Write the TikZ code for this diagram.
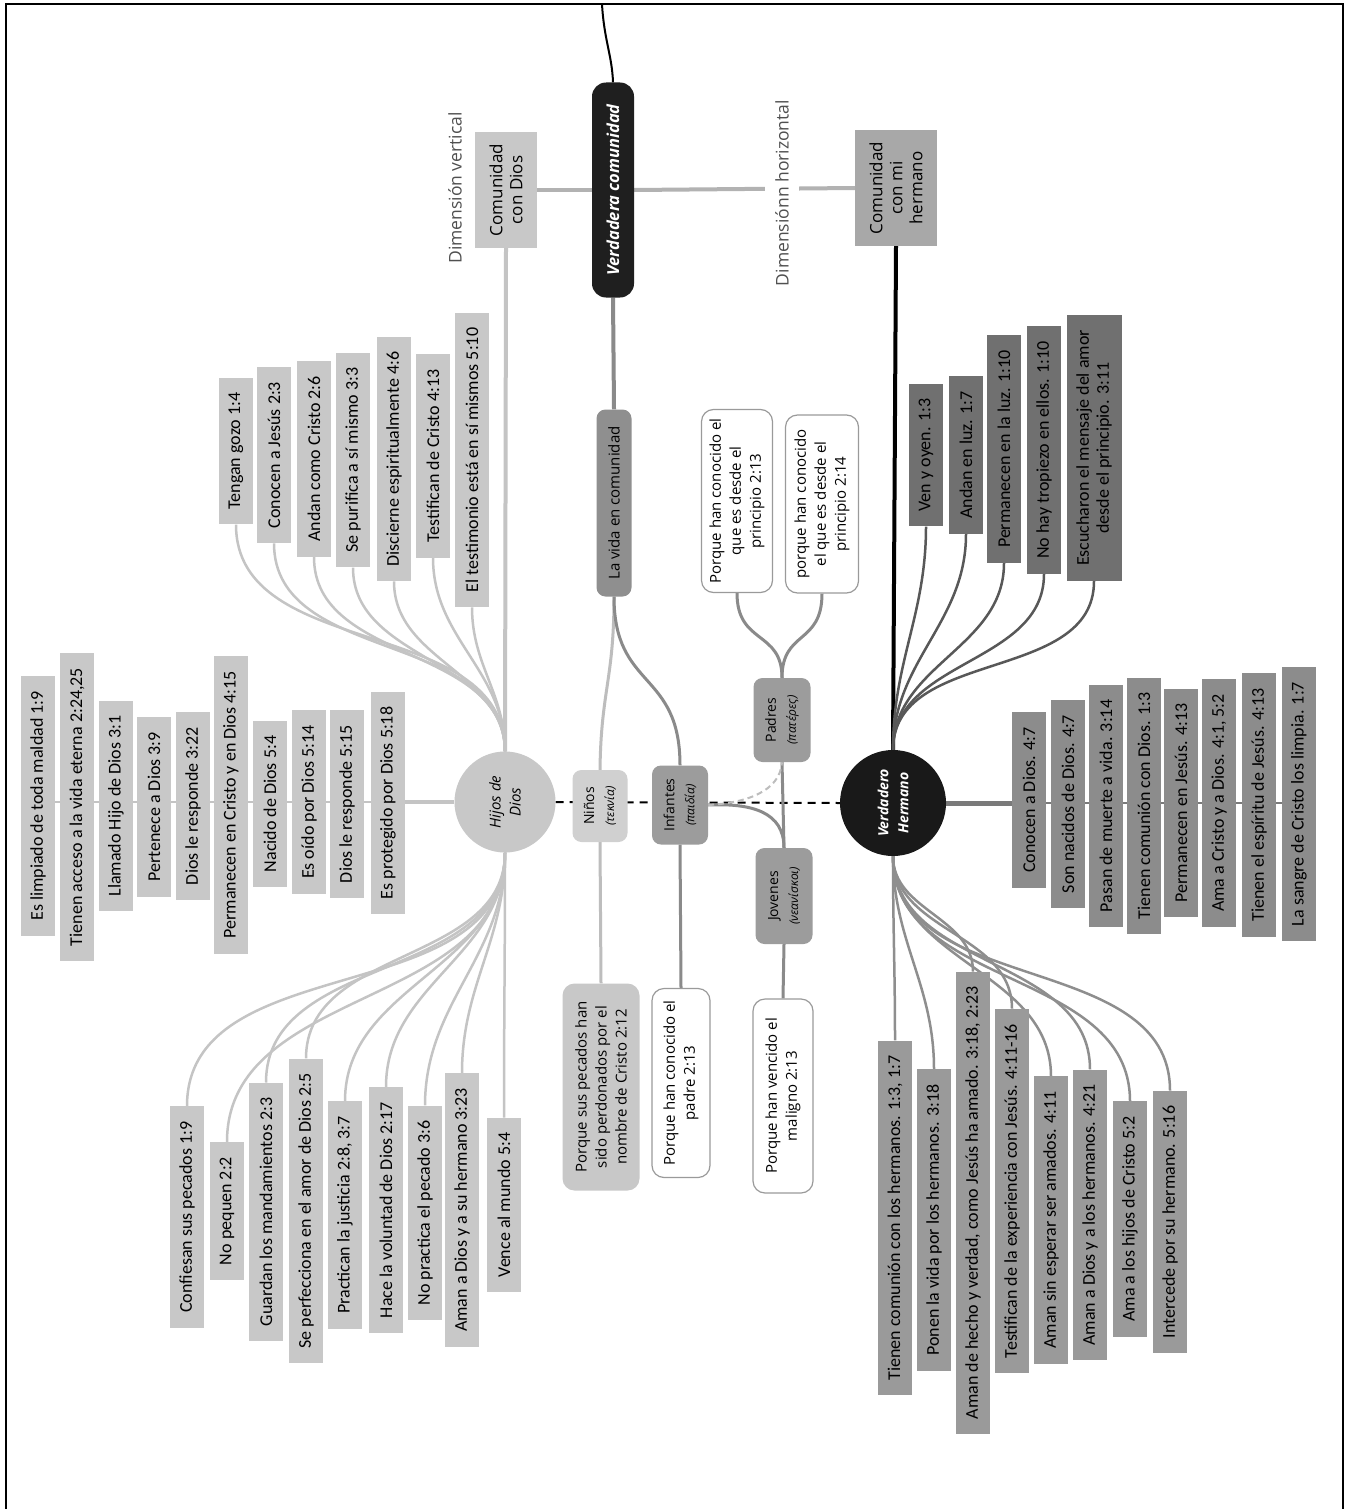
\documentclass[tikz,border=0pt]{standalone}
\usepackage{fontspec}
\setmainfont{Carlito}
\newfontfamily\mapfont{Open Sans}

\definecolor{godfill}{HTML}{C8C8C8}
\definecolor{godline}{HTML}{C4C4C4}
\definecolor{rowfill}{HTML}{8C8C8C}
\definecolor{upfill}{HTML}{707070}
\definecolor{lowfill}{HTML}{9A9A9A}
\definecolor{upline}{HTML}{585858}
\definecolor{rowline}{HTML}{7A7A7A}
\definecolor{lowline}{HTML}{8E8E8E}
\definecolor{midfill}{HTML}{9C9C9C}
\definecolor{midline}{HTML}{8A8A8A}
\definecolor{paleline}{HTML}{BDBDBD}
\definecolor{notedraw}{HTML}{9A9A9A}
\definecolor{dimtext}{HTML}{505050}

\pgfdeclarelayer{paper}
\pgfdeclarelayer{links}
\pgfsetlayers{paper,links,main}

\tikzset{
  leaf/.style={rotate=90, inner xsep=15pt, inner ysep=0pt, minimum height=34pt,
    font=\fontsize{18}{21}\selectfont, text=black},
  godleaf/.style={leaf, fill=godfill},
  rowleaf/.style={leaf, fill=rowfill},
  upleaf/.style={leaf, fill=upfill},
  lowleaf/.style={leaf, fill=lowfill},
  topic/.style={rotate=90, align=center, inner sep=0pt, rounded corners=9pt,
    font=\mapfont\fontsize{15}{20}\selectfont},
  note/.style={topic, draw=notedraw, line width=1.2pt, fill=white, rounded corners=12pt},
  dimlabel/.style={rotate=90, inner xsep=0pt, inner ysep=10pt, text=dimtext,
    font=\mapfont\fontsize{17.5}{20}\selectfont},
  godlink/.style={draw=godline, line width=2.5pt},
  uplink/.style={draw=upline, line width=2.5pt},
  rowlink/.style={draw=rowline, line width=2.5pt},
  lowlink/.style={draw=lowline, line width=2.5pt},
  midlink/.style={draw=midline, line width=3pt},
  palelink/.style={draw=paleline, line width=3pt},
}

\begin{document}
\begin{tikzpicture}[x=1pt,y=-1pt]
\useasboundingbox (0,0) rectangle (1352,1509);
\begin{pgfonlayer}{paper}
  \fill[white] (0,0) rectangle (1352,1509);
\end{pgfonlayer}

% ---------- central column ----------
\node[topic, fill=black!88, text=white, minimum width=215pt, minimum height=42pt,
  rounded corners=14pt, font=\mapfont\bfseries\itshape\fontsize{16.5}{18}\selectfont]
  (vc) at (613,190) {Verdadera comunidad};
\node[topic, fill=godfill, rounded corners=0pt, minimum width=116pt, minimum height=62pt,
  font=\mapfont\fontsize{17}{20}\selectfont] (ccd) at (506,190) {Comunidad\\con Dios};
\node[topic, fill=black!34, rounded corners=0pt, minimum width=115pt, minimum height=82pt,
  font=\mapfont\fontsize{17}{20}\selectfont] (cmh) at (896,188) {Comunidad\\con mi\\hermano};
\node[dimlabel] (dimv) at (455,188) {Dimensión vertical};
\node[dimlabel, fill=white] (dimh) at (782,193) {Dimensiónn horizontal};

\node[topic, fill=black!44, minimum width=187pt, minimum height=35pt] (vida) at (614,503) {La vida en comunidad};

\node[circle, fill=godfill, minimum size=101pt, inner sep=0pt] (hijos) at (505,802) {};
\node[rotate=90, align=center, font=\mapfont\itshape\fontsize{15}{20}\selectfont] at (hijos) {Hijos de\\Dios};
\node[circle, fill=black!90, minimum size=106pt, inner sep=0pt] (vh) at (893,803) {};
\node[rotate=90, align=center, text=white, font=\mapfont\bfseries\itshape\fontsize{14}{20}\selectfont] at (vh) {Verdadero\\Hermano};

\node[topic, fill=godfill!85, minimum width=72pt, minimum height=55pt, font=\mapfont\fontsize{14}{20}\selectfont] (ninos) at (600,806)
  {Niños\\{\itshape\fontsize{12}{14}\selectfont(τεκνία)}};
\node[topic, fill=midfill, minimum width=79pt, minimum height=56pt, font=\mapfont\fontsize{14}{20}\selectfont] (inf) at (680,805)
  {Infantes\\{\itshape\fontsize{12}{14}\selectfont(παιδία)}};
\node[topic, fill=midfill, minimum width=84pt, minimum height=57pt, font=\mapfont\fontsize{14}{20}\selectfont] (pad) at (782,720)
  {Padres\\{\itshape\fontsize{12}{14}\selectfont(πατέρες)}};
\node[topic, fill=midfill, minimum width=96pt, minimum height=57pt, font=\mapfont\fontsize{14}{20}\selectfont] (jov) at (784,896)
  {Jovenes\\{\itshape\fontsize{12}{14}\selectfont(νεανίσκοι)}};

\node[note, minimum width=183pt, minimum height=71pt] (w1) at (737,501)
  {Porque han conocido el\\que es desde el\\principio 2:13};
\node[note, minimum width=178pt, minimum height=73pt] (w2) at (822,504)
  {porque han conocido\\el que es desde el\\principio 2:14};
\node[topic, fill=godfill, rounded corners=12pt, minimum width=207pt, minimum height=77pt] (pec) at (601,1087)
  {Porque sus pecados han\\sido perdonados por el\\nombre de Cristo 2:12};
\node[note, minimum width=189pt, minimum height=58pt] (w3) at (681,1083)
  {Porque han conocido el\\padre 2:13};
\node[note, minimum width=194pt, minimum height=60pt] (w4) at (783,1096)
  {Porque han vencido el\\maligno 2:13};

% ---------- Hijos de Dios: upper fan ----------
\node[godleaf] (hu1) at (236,451) {Tengan gozo 1:4};
\node[godleaf] (hu2) at (274,455) {Conocen a Jesús 2:3};
\node[godleaf] (hu3) at (314,459) {Andan como Cristo 2:6};
\node[godleaf] (hu4) at (353,460) {Se purifica a sí mismo 3:3};
\node[godleaf] (hu5) at (394,459) {Discierne espiritualmente 4:6};
\node[godleaf] (hu6) at (433,456) {Testifican de Cristo 4:13};
\node[godleaf] (hu7) at (472,460) {El testimonio está en sí mismos 5:10};

% ---------- Hijos de Dios: row ----------
\node[godleaf] (hr1) at (38,806) {Es limpiado de toda maldad 1:9};
\node[godleaf] (hr2) at (77,807) {Tienen acceso a la vida eterna 2:24,25};
\node[godleaf] (hr3) at (116,806) {Llamado Hijo de Dios 3:1};
\node[godleaf] (hr4) at (154,807) {Pertenece a Dios 3:9};
\node[godleaf] (hr5) at (193,806) {Dios le responde 3:22};
\node[godleaf] (hr6) at (231,805) {Permanecen en Cristo y en Dios 4:15};
\node[godleaf] (hr7) at (270,804) {Nacido de Dios 5:4};
\node[godleaf] (hr8) at (309,802) {Es oído por Dios 5:14};
\node[godleaf] (hr9) at (347,804) {Dios le responde 5:15};
\node[godleaf] (hr10) at (388,803) {Es protegido por Dios 5:18};

% ---------- Hijos de Dios: lower fan ----------
\node[godleaf] (hl1) at (187,1217) {Confiesan sus pecados 1:9};
\node[godleaf] (hl2) at (227,1211) {No pequen 2:2};
\node[godleaf] (hl3) at (266,1212) {Guardan los mandamientos 2:3};
\node[godleaf] (hl4) at (306,1211) {Se perfecciona en el amor de Dios 2:5};
\node[godleaf] (hl5) at (345,1215) {Practican la justicia 2:8, 3:7};
\node[godleaf] (hl6) at (386,1210) {Hace la voluntad de Dios 2:17};
\node[godleaf] (hl7) at (425,1213) {No practica el pecado 3:6};
\node[godleaf] (hl8) at (462,1210) {Aman a Dios y a su hermano 3:23};
\node[godleaf] (hl9) at (504,1205) {Vence al mundo 5:4};

% ---------- Verdadero Hermano: upper fan ----------
\node[upleaf] (vu1) at (926,455) {Ven y oyen. 1:3};
\node[upleaf] (vu2) at (966,455) {Andan en luz. 1:7};
\node[upleaf] (vu3) at (1004,449) {Permanecen en la luz. 1:10};
\node[upleaf] (vu4) at (1044,450) {No hay tropiezo en ellos. 1:10};
\node[upleaf, align=center, font=\fontsize{18}{20}\selectfont, minimum height=55pt] (vu5) at (1094,448)
  {Escucharon el mensaje del amor\\desde el principio. 3:11};

% ---------- Verdadero Hermano: row ----------
\node[rowleaf] (vr1) at (1029,800) {Conocen a Dios. 4:7};
\node[rowleaf] (vr2) at (1068,804) {Son nacidos de Dios. 4:7};
\node[rowleaf] (vr3) at (1106,806) {Pasan de muerte a vida. 3:14};
\node[rowleaf] (vr4) at (1144,806) {Tienen comunión con Dios. 1:3};
\node[rowleaf] (vr5) at (1181,803) {Permanecen en Jesús. 4:13};
\node[rowleaf] (vr6) at (1219,803) {Ama a Cristo y a Dios. 4:1, 5:2};
\node[rowleaf] (vr7) at (1259,805) {Tienen el espíritu de Jesús. 4:13};
\node[rowleaf] (vr8) at (1299,804) {La sangre de Cristo los limpia. 1:7};

% ---------- Verdadero Hermano: lower fan ----------
\node[lowleaf] (vl1) at (895,1218) {Tienen comunión con los hermanos. 1:3, 1:7};
\node[lowleaf] (vl2) at (934,1220) {Ponen la vida por los hermanos. 3:18};
\node[lowleaf] (vl3) at (973,1203) {Aman de hecho y verdad, como Jesús ha amado. 3:18, 2:23};
\node[lowleaf] (vl4) at (1012,1191) {Testifican de la experiencia con Jesús. 4:11-16};
\node[lowleaf] (vl5) at (1051,1220) {Aman sin esperar ser amados. 4:11};
\node[lowleaf] (vl6) at (1090,1215) {Aman a Dios y a los hermanos. 4:21};
\node[lowleaf] (vl7) at (1130,1219) {Ama a los hijos de Cristo 5:2};
\node[lowleaf] (vl8) at (1170,1222) {Intercede por su hermano. 5:16};

% ---------- connectors ----------
\begin{pgfonlayer}{links}
  % frame
  \draw[line width=2pt] (6,1509) -- (6,4) -- (1343,4) -- (1343,1509);
  \coordinate (topend) at (602,4);
  \draw[line width=2pt] (topend) .. controls (604,40) and (612,55) .. (vc.east);

  \draw[draw=black!30, line width=4pt] (vc.north) -- (ccd.south);
  \draw[draw=black!30, line width=4pt] (vc.south) -- (cmh.north);
  \draw[godlink, line width=4pt] (ccd.west) -- (hijos.north);
  \draw[line width=4pt] (cmh.west) -- (vh.north);
  \draw[midlink, line width=4pt] (vc.west) -- (vida.east);

  \draw[palelink] (vida.west) .. controls (614,680) and (601,690) .. (ninos.east);
  \draw[midlink] (vida.west) .. controls (614,690) and (680,670) .. (inf.east);

  \draw[line width=2pt, dash pattern=on 8pt off 6pt] (hijos.east) -- (vh.west);

  \draw[palelink] (ninos.west) -- (pec.east);
  \draw[midlink] (inf.west) -- (w3.east);
  \draw[midlink] (jov.west) -- (w4.east);
  \draw[midlink] (pad.west) -- (jov.east);
  \draw[midlink] (inf.south) .. controls (752,803) and (784,812) .. (jov.east);
  \draw[draw=paleline, line width=2pt, dash pattern=on 6pt off 4pt]
    (inf.south) .. controls (745,803) and (780,792) .. (pad.west);
  \draw[midlink] (pad.east) .. controls (782,630) and (737,645) .. (w1.west);
  \draw[midlink] (pad.east) .. controls (782,630) and (822,645) .. (w2.west);

  \foreach \i in {1,...,7}
    \draw[godlink] (hu\i.west) to[out=-90,in=90] (hijos.north);
  \draw[godlink, line width=4pt] (hijos.west) -- (hr10.center |- hijos.west);
  \draw[godlink] (hr10.center |- hijos.west) -- (hr1.center |- hijos.west);
  \foreach \i in {1,...,9}
    \draw[godlink] (hijos.south) to[out=-90,in=90] (hl\i.east);

  \foreach \i in {1,...,5}
    \draw[uplink] (vu\i.west) to[out=-90,in=90] (vh.north);
  \draw[rowlink, line width=5pt] (vh.east) -- (vr1.center |- vh.east);
  \draw[rowlink] (vr1.center |- vh.east) -- (vr8.center |- vh.east);
  \foreach \i in {1,...,8}
    \draw[lowlink] (vh.south) to[out=-90,in=90] (vl\i.east);
\end{pgfonlayer}
\end{tikzpicture}
\end{document}
